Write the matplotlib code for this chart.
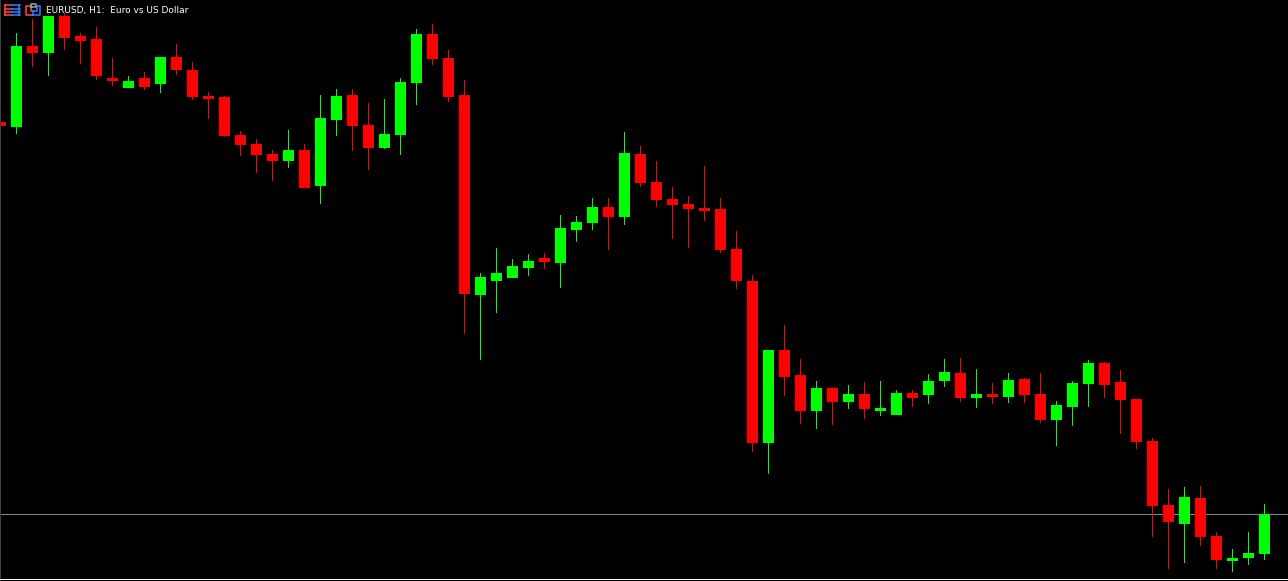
"""EURUSD H1 candlesticks, terminal style (black background, lime/red bodies)."""
import matplotlib

matplotlib.use("Agg")

import matplotlib.pyplot as plt  # noqa: E402

TITLE = "EURUSD, H1:  Euro vs US Dollar"

# chart levels, read top-down off the picture (axis is inverted, no price scale shown)
is_up = [0, 1, 0, 1, 0, 0, 0, 0, 1, 0, 1, 0, 0, 0, 0, 0, 0, 0, 1, 0,
         1, 1, 0, 0, 1, 1, 1, 0, 0, 0, 1, 1, 1, 1, 0, 1, 1, 1, 0, 1,
         0, 0, 0, 0, 0, 0, 0, 0, 1, 0, 0, 1, 0, 1, 0, 1, 1, 0, 1, 1,
         0, 1, 0, 1, 0, 0, 1, 1, 1, 0, 0, 0, 0, 0, 1, 0, 0, 1, 1, 1]
wick_top = [122, 33, 19, 16, 13, 33, 27, 58, 76, 72, 57, 44, 62, 92, 96, 131, 139, 150, 130, 144,
            95, 89, 89, 103, 99, 78, 29, 24, 50, 80, 273, 248, 259, 254, 253, 215, 216, 198, 198, 132,
            146, 161, 187, 196, 166, 198, 231, 275, 350, 325, 359, 381, 387, 385, 382, 381, 390, 390, 374, 359,
            358, 369, 383, 373, 378, 373, 401, 381, 360, 362, 370, 399, 438, 489, 487, 486, 532, 549, 532, 504]
body_top = [122, 46, 46, 16, 16, 36, 39, 78, 81, 78, 57, 57, 70, 96, 97, 135, 144, 154, 150, 150,
            118, 96, 95, 125, 134, 82, 34, 34, 58, 95, 277, 273, 266, 261, 258, 228, 222, 207, 207, 153,
            154, 182, 199, 204, 208, 209, 249, 281, 350, 350, 375, 388, 388, 394, 394, 408, 393, 393, 381, 372,
            373, 394, 394, 380, 379, 394, 405, 383, 363, 363, 382, 399, 441, 505, 497, 498, 536, 558, 553, 514]
body_bottom = [126, 127, 53, 53, 38, 41, 76, 81, 88, 87, 84, 70, 97, 99, 136, 145, 155, 161, 161, 188,
               186, 120, 126, 148, 148, 135, 83, 59, 97, 294, 295, 281, 278, 268, 262, 263, 230, 223, 217, 217,
               183, 200, 205, 209, 211, 250, 281, 443, 443, 377, 411, 411, 402, 402, 409, 411, 415, 398, 395, 381,
               398, 398, 397, 397, 395, 420, 420, 407, 384, 385, 400, 442, 506, 522, 524, 537, 560, 561, 558, 554]
wick_bottom = [126, 134, 67, 76, 50, 64, 80, 86, 88, 90, 93, 75, 100, 119, 137, 156, 173, 181, 168, 188,
               204, 136, 151, 170, 149, 155, 105, 65, 102, 334, 360, 313, 278, 276, 269, 288, 242, 230, 250, 225,
               187, 207, 239, 248, 221, 253, 289, 452, 474, 396, 424, 429, 425, 409, 419, 416, 415, 407, 404, 387,
               402, 408, 404, 403, 403, 423, 446, 426, 407, 398, 434, 449, 537, 569, 563, 546, 569, 572, 565, 560]
hline_level = 514

BULL = "#00ff00"
BEAR = "#ff0000"
BAR_PX = 16
W, H = 1288, 581

fig = plt.figure(figsize=(W / 100, H / 100), dpi=100, facecolor="black")
ax = fig.add_axes([0, 0, 1, 1], facecolor="black")
ax.set_xlim(-0.5 / BAR_PX, (W - 0.5) / BAR_PX)
ax.set_ylim(H, 0)
ax.axis("off")

idx = list(range(len(is_up)))
colors = [BULL if u else BEAR for u in is_up]

# one pixel tall level line, bars for the wicks so the ends land exactly on rows
ax.axhspan(hline_level, hline_level + 1, color="#778899", lw=0, antialiased=False, zorder=1)
ax.bar(idx, [b - t for t, b in zip(wick_top, wick_bottom)], bottom=wick_top,
       width=1 / BAR_PX, color=colors, lw=0, antialiased=False, zorder=2)
ax.bar(idx, [b - t for t, b in zip(body_top, body_bottom)], bottom=body_top,
       width=11 / BAR_PX, color=colors, lw=0, antialiased=False, zorder=3)

# overlay in pixels: window frame, corner icons and the symbol label
ov = fig.add_axes([0, 0, 1, 1], facecolor="none")
ov.set_xlim(0, W); ov.set_ylim(H, 0)
ov.axis("off")
ov.axvspan(0, 1, color="#404040", lw=0, antialiased=False)
ov.axhspan(579, 580, color="white", lw=0, antialiased=False)

RED_I = "#ff4a40"
BLUE_I = "#2a80ff"
LW_I = 1.1
for y in (4.5, 8.5, 11.5, 14.5):
    ov.plot([5, 12.5], [y, y], color=RED_I, lw=LW_I)
    ov.plot([12.5, 20], [y, y], color=BLUE_I, lw=LW_I)
ov.plot([5.5, 5.5], [4.5, 14.5], color=RED_I, lw=LW_I)
ov.plot([19.5, 19.5], [4.5, 14.5], color=BLUE_I, lw=LW_I)
ov.plot([33, 26.5, 26.5, 31.5, 31.5, 33], [14.5, 14.5, 5.5, 5.5, 10.5, 10.5], color=RED_I, lw=LW_I)
ov.plot([33.5, 33.5, 37.5, 37.5, 40.5, 40.5, 33.5], [14.5, 10.5, 10.5, 5.5, 5.5, 14.5, 14.5],
        color=BLUE_I, lw=LW_I)
ov.plot([31, 31, 36, 36, 31], [7, 4, 4, 7, 7], color="#a0a0a0", lw=LW_I)

ov.text(46.5, 13.2, TITLE, color="white", fontsize=6.5, family="DejaVu Sans",
        ha="left", va="baseline")

fig.savefig("out.png", dpi=100, facecolor="black")
plt.close(fig)
